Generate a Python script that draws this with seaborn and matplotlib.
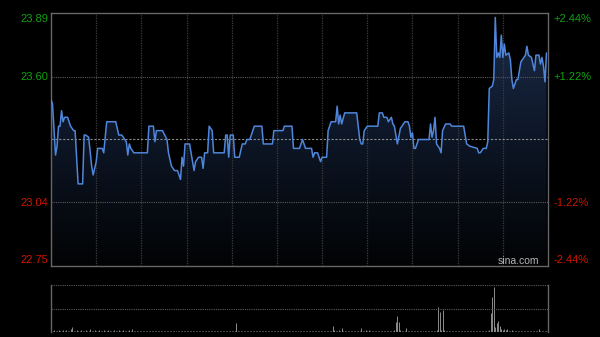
import numpy as np
import pandas as pd
import matplotlib
matplotlib.use("Agg")
import matplotlib.pyplot as plt
import seaborn as sns
from matplotlib.colors import LinearSegmentedColormap

# ---- data (minute index from open, 0..330) ----
minutes = [0, 1, 3, 4, 5, 6, 7, 8, 9, 11, 13, 15, 16, 18, 21, 22, 23, 25, 27, 28,
           30, 31, 34, 35, 37, 43, 45, 47, 49, 50, 51, 52, 53, 55, 64, 65, 68, 69, 70, 74,
           77, 78, 80, 81, 82, 84, 86, 87, 88, 89, 92, 95, 96, 98, 100, 101, 102, 104, 105, 107,
           108, 115, 116, 117, 118, 119, 121, 122, 125, 127, 129, 130, 132, 135, 140, 141, 147, 148, 154, 155,
           160, 161, 165, 167, 169, 173, 174, 175, 177, 179, 180, 183, 184, 185, 186, 189, 190, 191, 192, 193,
           195, 203, 205, 206, 207, 208, 210, 217, 218, 220, 221, 223, 224, 226, 227, 228, 230, 232, 234, 235,
           237, 238, 239, 240, 241, 242, 244, 251, 252, 253, 254, 255, 256, 258, 259, 260, 262, 265, 266, 274,
           276, 278, 283, 284, 285, 287, 289, 290, 291, 293, 294, 295, 296, 297, 298, 299, 300, 301, 302, 304,
           305, 306, 307, 309, 310, 312, 314, 315, 316, 317, 319, 321, 322, 324, 325, 326, 327, 328, 329]
prices = [23.50, 23.48, 23.25, 23.29, 23.38, 23.38, 23.45, 23.40, 23.42, 23.42, 23.38, 23.36, 23.36, 23.12, 23.12, 23.34, 23.34, 23.33, 23.20, 23.16,
          23.22, 23.28, 23.28, 23.26, 23.40, 23.40, 23.34, 23.34, 23.32, 23.31, 23.25, 23.30, 23.28, 23.26, 23.26, 23.38, 23.38, 23.31, 23.36, 23.36,
          23.32, 23.26, 23.20, 23.19, 23.18, 23.18, 23.14, 23.24, 23.20, 23.30, 23.30, 23.18, 23.22, 23.24, 23.24, 23.19, 23.26, 23.26, 23.38, 23.36,
          23.26, 23.26, 23.34, 23.34, 23.24, 23.34, 23.34, 23.24, 23.24, 23.30, 23.30, 23.32, 23.32, 23.38, 23.38, 23.30, 23.30, 23.36, 23.36, 23.38,
          23.38, 23.28, 23.28, 23.32, 23.28, 23.28, 23.24, 23.26, 23.26, 23.22, 23.24, 23.24, 23.36, 23.38, 23.40, 23.40, 23.47, 23.39, 23.43, 23.39,
          23.44, 23.44, 23.32, 23.30, 23.30, 23.36, 23.38, 23.38, 23.44, 23.44, 23.42, 23.42, 23.40, 23.42, 23.39, 23.38, 23.30, 23.37, 23.39, 23.40,
          23.40, 23.38, 23.33, 23.35, 23.28, 23.28, 23.32, 23.32, 23.39, 23.33, 23.36, 23.42, 23.30, 23.28, 23.26, 23.36, 23.39, 23.39, 23.38, 23.38,
          23.30, 23.29, 23.28, 23.26, 23.26, 23.28, 23.28, 23.31, 23.55, 23.56, 23.59, 23.87, 23.69, 23.71, 23.69, 23.79, 23.69, 23.75, 23.70, 23.71,
          23.68, 23.59, 23.55, 23.59, 23.59, 23.67, 23.69, 23.70, 23.74, 23.70, 23.69, 23.63, 23.70, 23.70, 23.66, 23.69, 23.65, 23.58, 23.71]

prev_close = 23.32
price_min, price_max = 22.75, 23.89
left_labels = ["23.89", "23.60", "23.04", "22.75"]
right_labels = ["+2.44%", "+1.22%", "-1.22%", "-2.44%"]
label_colors = ["#12a012", "#12a012", "#cc1500", "#cc1500"]

# per-minute volume (minutes 0..330), arbitrary units
volumes = [4, 3, 5, 3, 2, 4, 3, 2, 5, 3, 4, 2, 3, 6, 10, 3, 2, 4, 3, 2, 5, 3, 2, 4, 3, 2, 6, 3, 2, 4,
           3, 2, 4, 2, 3, 5, 2, 3, 4, 2, 3, 2, 4, 3, 2, 5, 3, 2, 4, 2, 3, 2, 4, 3, 6, 3, 2, 2, 3, 2,
           2, 3, 2, 2, 3, 2, 2, 2, 3, 2, 2, 2, 3, 2, 2, 2, 2, 3, 2, 2, 2, 3, 2, 2, 2, 2, 3, 2, 2, 2,
           2, 2, 3, 2, 2, 2, 2, 3, 2, 2, 2, 2, 2, 3, 2, 2, 2, 2, 3, 2, 2, 2, 2, 2, 3, 2, 2, 2, 2, 2,
           2, 2, 3, 18, 3, 2, 2, 2, 2, 2, 3, 2, 2, 2, 2, 2, 3, 2, 2, 2, 2, 2, 2, 3, 2, 2, 2, 2, 2, 2,
           2, 3, 2, 2, 2, 2, 2, 2, 3, 2, 2, 2, 2, 2, 2, 3, 2, 2, 2, 2, 2, 2, 3, 2, 2, 2, 2, 2, 3, 2,
           2, 2, 3, 2, 2, 3, 2, 12, 4, 2, 3, 5, 2, 9, 2, 2, 3, 2, 2, 2, 3, 2, 2, 3, 2, 2, 9, 3, 2, 4,
           2, 5, 3, 2, 2, 2, 3, 2, 2, 2, 3, 2, 2, 2, 2, 3, 2, 2, 4, 20, 33, 20, 4, 3, 2, 3, 8, 3, 2, 2,
           2, 2, 3, 2, 2, 2, 2, 2, 2, 2, 2, 2, 2, 2, 3, 2, 4, 50, 40, 4, 45, 4, 3, 2, 2, 2, 2, 2, 2, 2,
           2, 2, 2, 2, 2, 2, 3, 2, 2, 2, 2, 2, 2, 2, 2, 2, 2, 2, 2, 3, 3, 4, 38, 71, 91, 10, 18, 23, 13, 6,
           4, 7, 4, 7, 3, 2, 4, 2, 2, 2, 2, 2, 2, 3, 2, 2, 2, 2, 3, 2, 2, 2, 2, 2, 7, 3, 2, 2, 2, 2, 2]
vol_max = 94

# ---- style ----
sns.set_theme(style="dark")
plt.rcParams['font.family'] = ['Liberation Sans', 'DejaVu Sans']

W, H = 600, 337
fig = plt.figure(figsize=(6, 3.37), dpi=100, facecolor='black')
ax = fig.add_axes([51 / W, 1 - 266 / H, 497 / W, 253 / H])
axv = fig.add_axes([51 / W, 1 - 332 / H, 497 / W, 47 / H])
for a in (ax, axv):
    a.set_facecolor('black')
    a.set_xlim(0, 330)
    a.set_xticks([])
    a.set_yticks([])
    a.grid(False)
ax.set_ylim(price_min, price_max)
axv.set_ylim(0, vol_max)

df = pd.DataFrame({'minute': minutes, 'price': prices})

# gradient area under the line
poly = ax.fill_between(df['minute'], df['price'], price_min, color='none', lw=0)
grad = np.linspace(1, 0, 256).reshape(-1, 1)
cmap = LinearSegmentedColormap.from_list('g', ['#020304', '#0d1626', '#1b2c4a'])
im = ax.imshow(grad, extent=[0, 330, price_min, price_max], aspect='auto', cmap=cmap,
               origin='upper', vmin=0, vmax=1, zorder=1)
im.set_clip_path(poly.get_paths()[0], transform=ax.transData)

# grid
grid_kw = dict(color='#3c3c3c', lw=0.9, linestyles=(0, (1, 1)), zorder=2)
ax.vlines(np.arange(30, 330, 30), price_min, price_max, **grid_kw)
ax.hlines([23.60, 23.04], 0, 330, colors='#5a5a5a', lw=0.8, linestyles=(0, (1, 1)), zorder=2)
ax.hlines([prev_close], 0, 330, colors='#8a8a8a', lw=0.8, linestyles=(0, (2, 1.5)), zorder=2)

sns.lineplot(data=df, x='minute', y='price', ax=ax, color='#4f86d9', lw=1.1, zorder=3)
ax.set_xlabel('')
ax.set_ylabel('')

for s in ax.spines.values():
    s.set_color('#666666')
    s.set_linewidth(1.0)

# volume
vdf = pd.DataFrame({'minute': np.arange(len(volumes)), 'volume': volumes})
axv.vlines(vdf['minute'], 0, vdf['volume'], colors='#8c8c8c', lw=0.7)
axv.hlines([vol_max, vol_max / 2], 0, 330, colors='#5a5a5a', lw=0.8, linestyles=(0, (1, 1)))
for k, s in axv.spines.items():
    s.set_color('#666666')
    s.set_linewidth(1.0)
axv.spines['top'].set_visible(False)
axv.spines['bottom'].set_visible(False)

# axis labels
ypix = [19, 77, 203, 260]
for lab, rlab, c, yp in zip(left_labels, right_labels, label_colors, ypix):
    fig.text(48 / W, 1 - yp / H, lab, color=c, fontsize=8, ha='right', va='center')
    fig.text(553 / W, 1 - yp / H, rlab, color=c, fontsize=8, ha='left', va='center')

fig.text(518 / W, 1 - 261 / H, 'sina.com', color='#b4b4b4', fontsize=7.5, ha='center', va='center')

fig.savefig('out.png', dpi=100, facecolor='black')
